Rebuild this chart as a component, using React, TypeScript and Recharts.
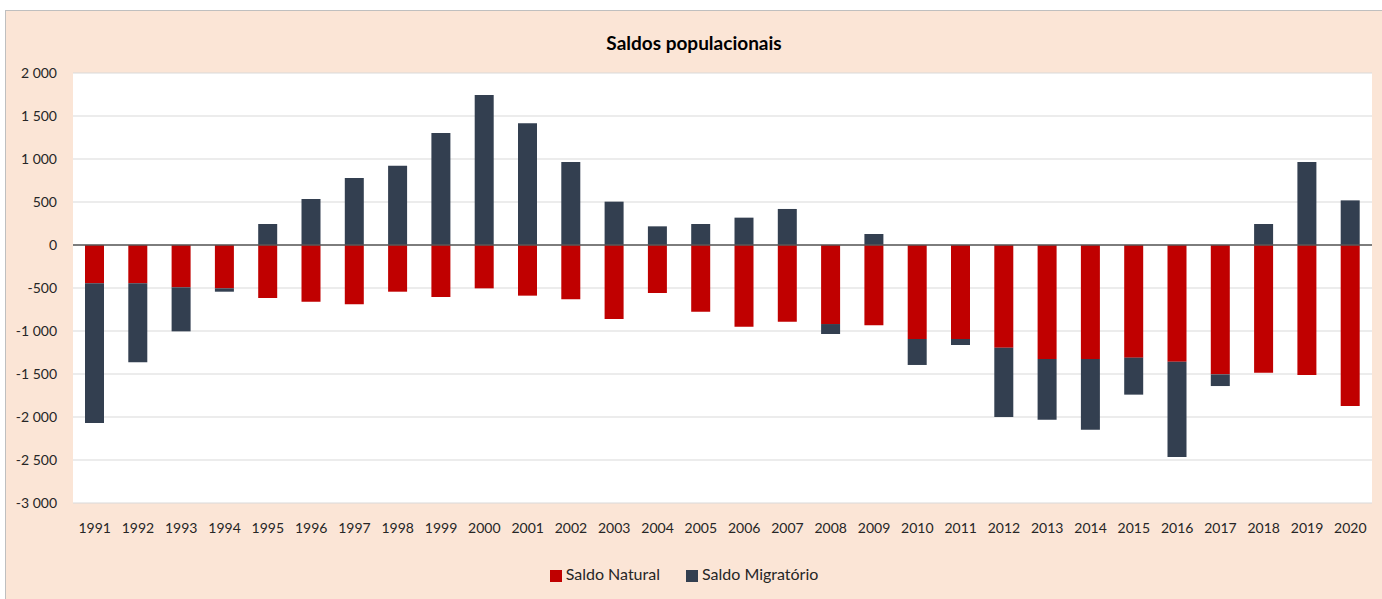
import { BarChart, Bar, XAxis, YAxis, CartesianGrid, Legend, ReferenceLine } from 'recharts';

const years = [
  '1991', '1992', '1993', '1994', '1995', '1996', '1997', '1998', '1999', '2000',
  '2001', '2002', '2003', '2004', '2005', '2006', '2007', '2008', '2009', '2010',
  '2011', '2012', '2013', '2014', '2015', '2016', '2017', '2018', '2019', '2020',
];

const saldoNatural = [
  -445, -445, -492, -504, -616, -659, -690, -543, -605, -504,
  -589, -632, -860, -558, -775, -950, -891, -919, -934, -1093,
  -1093, -1194, -1326, -1326, -1310, -1357, -1504, -1485, -1512, -1872,
];

const saldoMigratorio = [
  -1625, -919, -512, -39, 244, 535, 779, 922, 1302, 1744,
  1415, 965, 504, 217, 244, 318, 419, -116, 128, -302,
  -70, -806, -705, -821, -430, -1108, -136, 244, 965, 519,
];

const yTicks = [2000, 1500, 1000, 500, 0, -500, -1000, -1500, -2000, -2500, -3000];

const data = years.map((y, i) => ({
  year: y,
  natural: saldoNatural[i],
  migratorio: saldoMigratorio[i],
}));

const fmt = (v: number) => {
  const s = Math.abs(v).toString().replace(/\B(?=(\d{3})+(?!\d))/g, ' ');
  return (v < 0 ? '-' : '') + s;
};

const FONT = 'Lato, "Open Sans", sans-serif';

export default function App() {
  return (
    <div style={{ position: 'absolute', left: 0, top: 0, width: 1382, height: 599, background: '#fff', fontFamily: FONT }}>
      <div
        style={{
          position: 'absolute',
          left: 5,
          top: 10,
          width: 1377,
          height: 589,
          background: '#FBE5D6',
          borderTop: '1px solid #bfbfbf',
          borderLeft: '1px solid #bfbfbf',
          boxSizing: 'border-box',
        }}
      >
        <div
          style={{
            position: 'absolute',
            left: 0,
            width: '100%',
            top: 20,
            textAlign: 'center',
            fontWeight: 'bold',
            fontSize: 19,
            color: '#000',
          }}
        >
          Saldos populacionais
        </div>
        <BarChart
          width={1376}
          height={588}
          data={data}
          stackOffset="sign"
          margin={{ top: 62, right: 10, left: 0, bottom: 47 }}
        >
          <CartesianGrid vertical={false} stroke="#d9d9d9" fill="#fff" />
          <XAxis
            dataKey="year"
            axisLine={false}
            tickLine={false}
            tick={{ fill: '#262626', fontSize: 14 }}
            tickMargin={14}
            interval={0}
          />
          <YAxis
            width={67}
            domain={[-3000, 2000]}
            ticks={yTicks}
            axisLine={false}
            tickLine={false}
            tickFormatter={fmt}
            tick={{ fill: '#262626', fontSize: 14 }}
            tickMargin={10}
          />
          <ReferenceLine y={0} stroke="#595959" strokeWidth={1.5} />
          <Legend
            verticalAlign="bottom"
            iconType="square"
            iconSize={12}
            itemSorter={(item: any) => (item.value === 'Saldo Natural' ? 0 : 1)}
            wrapperStyle={{ bottom: 16, fontSize: 16 }}
            formatter={(value: string) => (
              <span style={{ color: '#262626', marginRight: value === 'Saldo Natural' ? 16 : 0 }}>{value}</span>
            )}
          />
          <Bar dataKey="natural" name="Saldo Natural" stackId="s" fill="#C00000" barSize={19} isAnimationActive={false} />
          <Bar dataKey="migratorio" name="Saldo Migratório" stackId="s" fill="#333F50" barSize={19} isAnimationActive={false} />
        </BarChart>
      </div>
    </div>
  );
}
